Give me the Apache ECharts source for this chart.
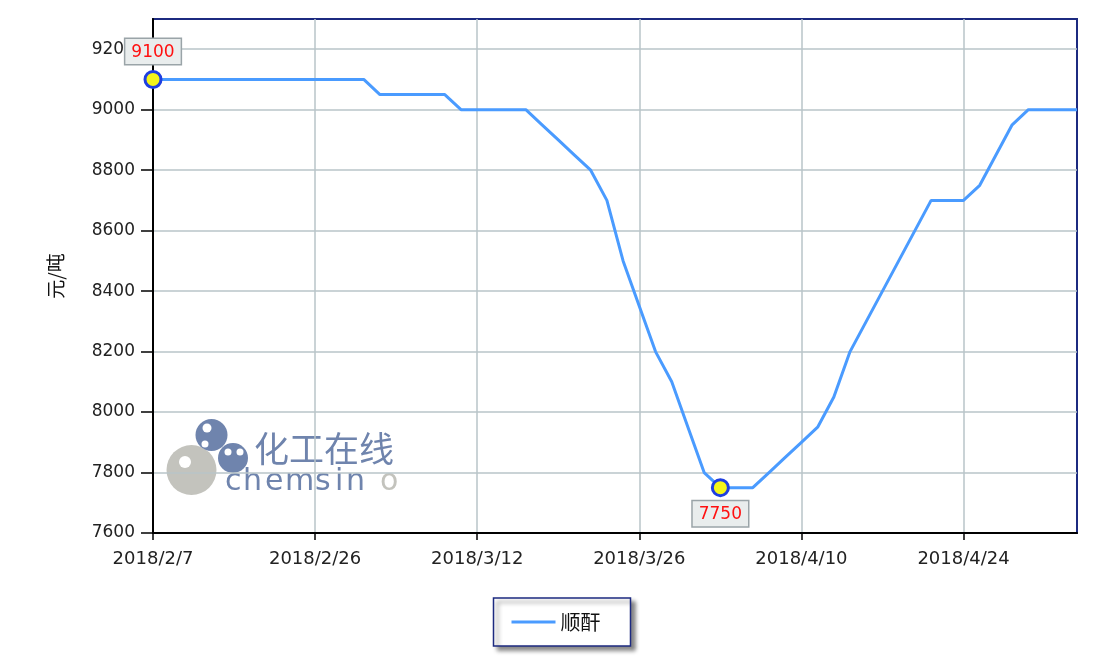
<!DOCTYPE html>
<html>
<head>
<meta charset="utf-8">
<script src="https://cdn.jsdelivr.net/npm/echarts@6/dist/echarts.min.js"></script>
<style>
html,body{margin:0;padding:0;background:#fff;}
#chart{width:1112px;height:667px;}
</style>
</head>
<body>
<div id="chart"></div>
<script>
const seriesName = '顺酐';
const yAxisName = '元/吨';
const dates = [
  '2018/2/7','2018/2/8','2018/2/9','2018/2/11','2018/2/12','2018/2/13','2018/2/14','2018/2/22','2018/2/23','2018/2/24',
  '2018/2/26','2018/2/27','2018/2/28','2018/3/1','2018/3/2','2018/3/5','2018/3/6','2018/3/7','2018/3/8','2018/3/9',
  '2018/3/12','2018/3/13','2018/3/14','2018/3/15','2018/3/16','2018/3/19','2018/3/20','2018/3/21','2018/3/22','2018/3/23',
  '2018/3/26','2018/3/27','2018/3/28','2018/3/29','2018/3/30','2018/4/2','2018/4/3','2018/4/4','2018/4/8','2018/4/9',
  '2018/4/10','2018/4/11','2018/4/12','2018/4/13','2018/4/16','2018/4/17','2018/4/18','2018/4/19','2018/4/20','2018/4/23',
  '2018/4/24','2018/4/25','2018/4/26','2018/4/27','2018/4/28','2018/5/2','2018/5/3','2018/5/4'
];
const prices = [
  9100,9100,9100,9100,9100,9100,9100,9100,9100,9100,
  9100,9100,9100,9100,9050,9050,9050,9050,9050,9000,
  9000,9000,9000,9000,8950,8900,8850,8800,8700,8500,
  8350,8200,8100,7950,7800,7750,7750,7750,7800,7850,
  7900,7950,8050,8200,8300,8400,8500,8600,8700,8700,
  8700,8750,8850,8950,9000,9000,9000,9000
];
const yTicks = [7600,7800,8000,8200,8400,8600,8800,9000,9200];
const yMin = 7600, yMax = 9300;

const maxVal = Math.max(...prices), minVal = Math.min(...prices);
const maxIdx = prices.indexOf(maxVal), minIdx = prices.indexOf(minVal);

const chart = echarts.init(document.getElementById('chart'), null, {renderer:'canvas'});
const labelBox = {
  color:'#ff1010', fontSize:17, fontFamily:'DejaVu Sans',
  backgroundColor:'#e9eded', borderColor:'#9aa4a8', borderWidth:1.5,
  padding:[5,6,3,6]
};
const fg = '#6f84ad';
const wm = [['c',225],['h',243],['e',265],['m',285],['s',315],['i',335],['n',346]];
const wmGraphics = wm.map(([ch,x]) => ({type:'text',silent:true,z:0,left:x,top:467,
  style:{text:ch,font:'30px "DejaVu Sans"',fill:fg}}));
chart.setOption({
  animation:false,
  backgroundColor:'#fff',
  grid:{left:153,right:35,top:19,bottom:134,show:true,borderColor:'#1c2a80',borderWidth:2,backgroundColor:'transparent'},
  graphic:[
    {type:'circle',silent:true,z:0,shape:{cx:191.5,cy:470,r:25},style:{fill:'#c3c3bd'}},
    {type:'circle',silent:true,z:0,shape:{cx:185,cy:462,r:6},style:{fill:'#ffffff'}},
    {type:'circle',silent:true,z:0,shape:{cx:211.5,cy:435,r:16},style:{fill:fg}},
    {type:'circle',silent:true,z:0,shape:{cx:207,cy:428,r:4.5},style:{fill:'#ffffff'}},
    {type:'circle',silent:true,z:0,shape:{cx:205,cy:444,r:3.5},style:{fill:'#ffffff'}},
    {type:'circle',silent:true,z:0,shape:{cx:233,cy:458,r:15},style:{fill:fg}},
    {type:'circle',silent:true,z:0,shape:{cx:228,cy:452,r:3.5},style:{fill:'#ffffff'}},
    {type:'circle',silent:true,z:0,shape:{cx:240,cy:452,r:3.5},style:{fill:'#ffffff'}},
    {type:'text',silent:true,z:0,left:254,top:431,style:{text:'化工在线',font:'35px "Noto Sans CJK SC"',fill:fg}},
    ...wmGraphics,
    {type:'text',silent:true,z:0,left:380,top:467,style:{text:'o',font:'30px "DejaVu Sans"',fill:'#c3c3bd'}}
  ],
  legend:{
    bottom:21,left:'center',
    data:[seriesName],
    backgroundColor:'#fff',borderColor:'#1c2a80',borderWidth:1.5,
    padding:[14,30,14,18],itemGap:12,
    itemWidth:44,itemHeight:3,
    shadowColor:'rgba(0,0,0,0.45)',shadowBlur:4,shadowOffsetX:4,shadowOffsetY:4,
    textStyle:{fontSize:20,color:'#111',fontFamily:'"Noto Sans CJK SC"'},
    icon:'rect'
  },
  xAxis:{
    type:'category',data:dates,boundaryGap:false,
    axisLine:{lineStyle:{color:'#000',width:2}},
    axisTick:{interval:9,length:7,lineStyle:{color:'#000',width:1.5}},
    axisLabel:{interval:9,margin:17,fontSize:18,color:'#222',fontFamily:'DejaVu Sans'},
    splitLine:{show:true,interval:9,lineStyle:{color:'#b9c5c9',width:1.5}}
  },
  yAxis:{
    type:'value',min:yMin,max:yMax,interval:200,
    name:yAxisName,nameLocation:'middle',nameGap:88,
    nameTextStyle:{fontSize:19,color:'#111',fontFamily:'"Noto Sans CJK SC"'},
    axisLine:{show:true,lineStyle:{color:'#000',width:2}},
    axisTick:{show:true,length:12,customValues:yTicks,lineStyle:{color:'#000',width:1.5}},
    axisLabel:{margin:18,fontSize:17,color:'#222',fontFamily:'DejaVu Sans',customValues:yTicks,
      formatter:v=>String(v)},
    splitLine:{show:true,lineStyle:{color:'#b9c5c9',width:1.5}}
  },
  series:[{
    name:seriesName,type:'line',data:prices,
    showSymbol:false,symbol:'none',
    lineStyle:{color:'#4a9bff',width:3},
    itemStyle:{color:'#4a9bff'},
    z:3,
    markPoint:{
      symbol:'circle',symbolSize:16,
      itemStyle:{color:'#f5f51a',borderColor:'#1f3fe0',borderWidth:3},
      data:[
        {coord:[maxIdx,maxVal],value:maxVal,label:{show:true,position:'top',distance:6,...labelBox}},
        {coord:[minIdx,minVal],value:minVal,label:{show:true,position:'bottom',distance:4,...labelBox}}
      ]
    }
  }]
});
</script>
</body>
</html>
